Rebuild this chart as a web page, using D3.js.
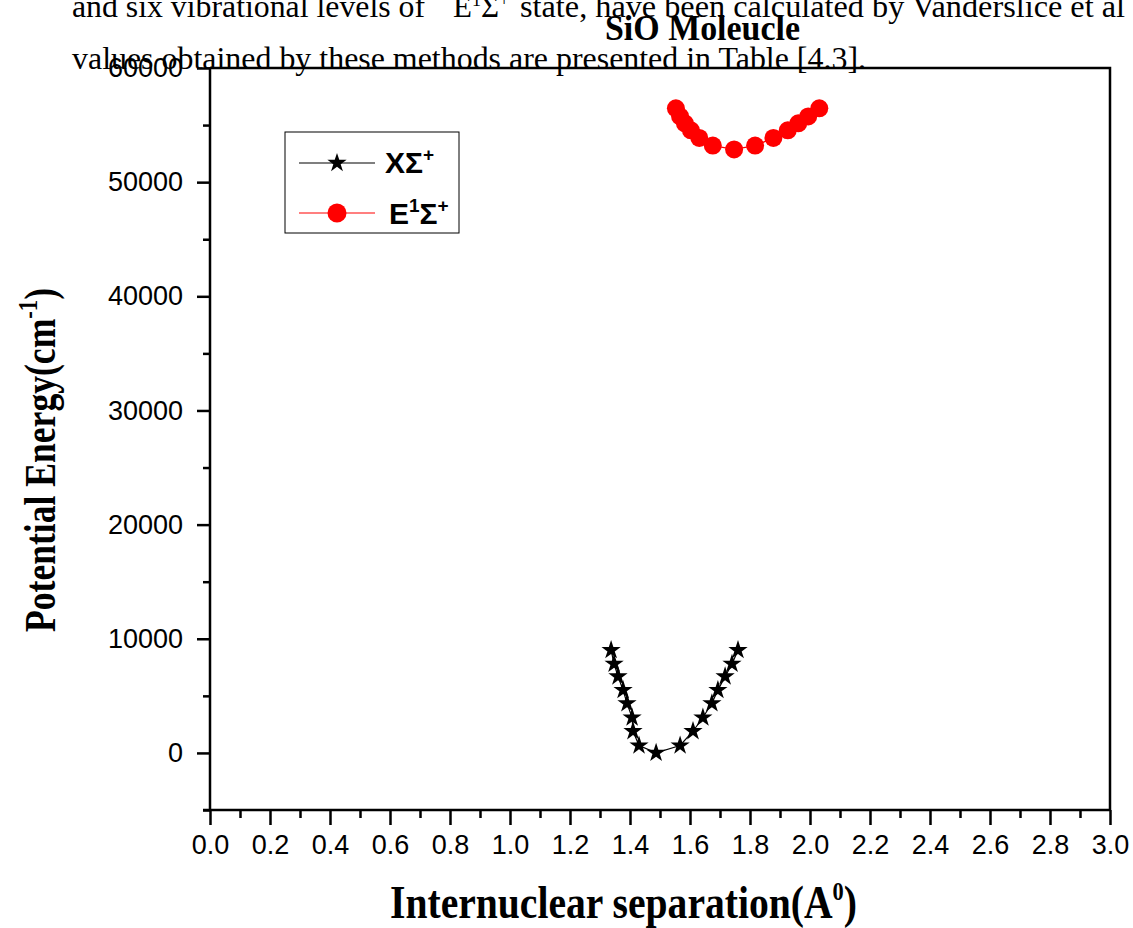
<!DOCTYPE html>
<html lang="en">
<head>
<meta charset="utf-8">
<title>SiO Moleucle</title>
<script src="https://d3js.org/d3.v7.min.js"></script>
<style>
  body { margin: 0; background: #fff; }
  svg { display: block; }
</style>
</head>
<body>
<script>
// X state (ground) points
var xStateR = [1.337, 1.347, 1.36, 1.377, 1.39, 1.407, 1.41, 1.43, 1.487,
               1.567, 1.61, 1.643, 1.673, 1.693, 1.717, 1.74, 1.76];
var xStateE = [9000, 7800, 6700, 5500, 4350, 3100, 1900, 650, 0,
               650, 1900, 3100, 4350, 5500, 6700, 7800, 9000];
// E1 state points
var eStateR = [1.553, 1.567, 1.583, 1.603, 1.631, 1.676, 1.747,
               1.817, 1.878, 1.926, 1.961, 1.994, 2.031];
var eStateE = [56470, 55760, 55150, 54540, 53870, 53200, 52870,
               53200, 53870, 54540, 55150, 55760, 56470];

var xTicks = d3.range(0, 3.01, 0.2);
var xMinor = d3.range(0.1, 3.0, 0.2);
var yTicks = [0, 10000, 20000, 30000, 40000, 50000, 60000];
var yMinor = [-5000, 5000, 15000, 25000, 35000, 45000, 55000];

var w = 1133, h = 928;
var mLeft = 210, mRight = 1110, mTop = 68, mBottom = 810;

var svg = d3.select("body").append("svg")
  .attr("width", w).attr("height", h);

var serif = "'Liberation Serif', 'Times New Roman', serif";
var sans = "'Liberation Sans', Arial, sans-serif";

// text of the page behind the chart
var bg = svg.append("g").style("font-family", serif).style("font-size", "31px");
bg.append("text").attr("x", 72).attr("y", 17)
  .attr("textLength", 353).attr("lengthAdjust", "spacingAndGlyphs")
  .text("and six vibrational levels of");
var eS = bg.append("text").attr("x", 453).attr("y", 17);
eS.append("tspan").text("E");
eS.append("tspan").attr("dy", -11).style("font-size", "18px").text("1");
eS.append("tspan").attr("dy", 11).text("Σ");
eS.append("tspan").attr("dy", -11).style("font-size", "18px").text("+");
bg.append("text").attr("x", 520).attr("y", 17)
  .attr("textLength", 605).attr("lengthAdjust", "spacingAndGlyphs")
  .text("state, have been calculated by Vanderslice et al");
bg.append("text").attr("x", 72).attr("y", 69)
  .attr("textLength", 794).attr("lengthAdjust", "spacingAndGlyphs")
  .text("values obtained by these methods are presented in Table [4.3].");

// scales
var x = d3.scaleLinear().domain([0, 3]).range([mLeft, mRight]);
var y = d3.scaleLinear().domain([-5000, 60000]).range([mBottom, mTop]);

// frame top/right
svg.append("path")
  .attr("d", "M" + mLeft + "," + mTop + "H" + mRight + "V" + mBottom)
  .attr("fill", "none").attr("stroke", "#000").attr("stroke-width", 2.5);

// x axis
var xAxis = svg.append("g").attr("transform", "translate(0," + mBottom + ")");
xAxis.call(d3.axisBottom(x).tickValues(xTicks).tickSize(15).tickPadding(10)
  .tickFormat(d3.format(".1f")));
xAxis.append("g").call(d3.axisBottom(x).tickValues(xMinor).tickSize(8).tickFormat(""))
  .select(".domain").remove();

// y axis
var yAxis = svg.append("g").attr("transform", "translate(" + mLeft + ",0)");
yAxis.call(d3.axisLeft(y).tickValues(yTicks).tickSize(13).tickPadding(14)
  .tickFormat(d3.format("d")));
yAxis.append("g").call(d3.axisLeft(y).tickValues(yMinor).tickSize(7).tickFormat(""))
  .select(".domain").remove();

svg.selectAll(".domain").attr("stroke-width", 2.5);
xAxis.select(".domain").attr("d", "M" + (mLeft - 7) + ",0H" + mRight);
yAxis.select(".domain").attr("d", "M0," + mTop + "V" + mBottom);
svg.selectAll(".tick line").attr("stroke-width", 2.5);
svg.selectAll(".tick text").style("font-family", sans).style("font-size", "27px").attr("fill", "#000");

// series
var xPts = xStateR.map(function(r, i) { return [r, xStateE[i]]; });
var ePts = eStateR.map(function(r, i) { return [r, eStateE[i]]; });
var line = d3.line().x(function(d) { return x(d[0]); }).y(function(d) { return y(d[1]); });

svg.append("path").datum(xPts).attr("d", line)
  .attr("fill", "none").attr("stroke", "#000").attr("stroke-width", 1.2);
svg.append("path").datum(ePts).attr("d", line)
  .attr("fill", "none").attr("stroke", "#ff0000").attr("stroke-width", 1.2);

var star = d3.symbol().type(d3.symbolStar).size(115);
svg.append("g").selectAll("path").data(xPts).enter().append("path")
  .attr("d", star)
  .attr("transform", function(d) { return "translate(" + x(d[0]) + "," + y(d[1]) + ")"; })
  .attr("fill", "#000");
svg.append("g").selectAll("circle").data(ePts).enter().append("circle")
  .attr("cx", function(d) { return x(d[0]); })
  .attr("cy", function(d) { return y(d[1]); })
  .attr("r", 9).attr("fill", "#ff0000");

// title
svg.append("text").attr("x", 605).attr("y", 40)
  .attr("textLength", 195).attr("lengthAdjust", "spacingAndGlyphs")
  .style("font-family", serif).style("font-weight", "bold").style("font-size", "36px")
  .text("SiO Moleucle");

// x label
var xl = svg.append("text").attr("x", 390).attr("y", 918)
  .attr("textLength", 467).attr("lengthAdjust", "spacingAndGlyphs")
  .style("font-family", serif).style("font-weight", "bold").style("font-size", "46px");
xl.append("tspan").text("Internuclear separation(A");
xl.append("tspan").attr("dy", -18).style("font-size", "26px").text("0");
xl.append("tspan").attr("dy", 18).text(")");

// y label
var yl = svg.append("text")
  .attr("transform", "translate(55,632) rotate(-90)")
  .attr("textLength", 344).attr("lengthAdjust", "spacingAndGlyphs")
  .style("font-family", serif).style("font-weight", "bold").style("font-size", "44px");
yl.append("tspan").text("Potential Energy(cm");
yl.append("tspan").attr("dy", -18).style("font-size", "28px").text("-1");
yl.append("tspan").attr("dy", 18).text(")");

// legend
var lg = svg.append("g");
lg.append("rect").attr("x", 285).attr("y", 132).attr("width", 174).attr("height", 101)
  .attr("fill", "#fff").attr("stroke", "#000").attr("stroke-width", 1);
lg.append("line").attr("x1", 299).attr("x2", 375).attr("y1", 163).attr("y2", 163)
  .attr("stroke", "#000").attr("stroke-width", 1.2);
lg.append("path").attr("d", star).attr("transform", "translate(337,163)").attr("fill", "#000");
lg.append("line").attr("x1", 299).attr("x2", 375).attr("y1", 213).attr("y2", 213)
  .attr("stroke", "#ff0000").attr("stroke-width", 1.2);
lg.append("circle").attr("cx", 337).attr("cy", 213).attr("r", 9.5).attr("fill", "#ff0000");

var t1 = lg.append("text").attr("x", 385).attr("y", 173)
  .style("font-family", sans).style("font-weight", "bold").style("font-size", "30px");
t1.append("tspan").text("XΣ");
t1.append("tspan").attr("dy", -12).style("font-size", "19px").text("+");
var t2 = lg.append("text").attr("x", 389).attr("y", 224)
  .style("font-family", sans).style("font-weight", "bold").style("font-size", "30px");
t2.append("tspan").text("E");
t2.append("tspan").attr("dy", -12).style("font-size", "19px").text("1");
t2.append("tspan").attr("dy", 12).text("Σ");
t2.append("tspan").attr("dy", -12).style("font-size", "19px").text("+");
</script>
</body>
</html>
